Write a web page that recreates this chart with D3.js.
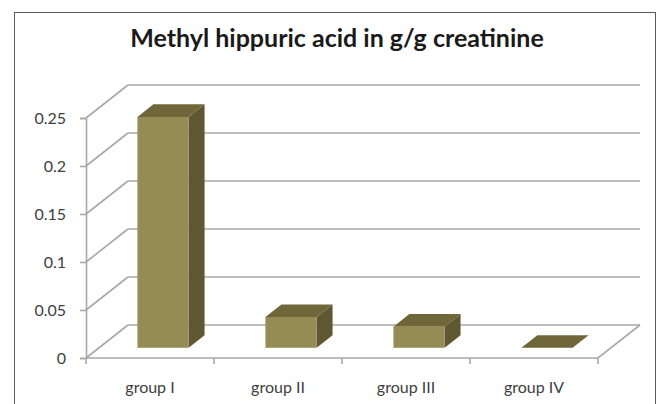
<!DOCTYPE html>
<html lang="en">
<head>
    <meta charset="UTF-8">
    <title>Methyl hippuric acid in g/g creatinine</title>
    <style>
        body { margin: 0; background: #fff; }
        text { font-family: Lato, "Open Sans", sans-serif; }
    </style>
</head>
<body>
<script src="https://cdn.jsdelivr.net/npm/d3@7"></script>
<script>
    const categories = ["group I", "group II", "group III", "group IV"];
    const values = [0.2405, 0.032, 0.022, 0];
    const yTicks = [0, 0.05, 0.1, 0.15, 0.2, 0.25];

    const width = 660, height = 404;
    // front plane of the plot, depth goes up and to the right
    const front = {left: 86, right: 598, bottom: 358, top: 118};
    const depth = {dx: 42, dy: -33};
    const barZ = [0.31, 0.69];   // bar sits in the middle of the depth
    const barWidth = 0.4;        // share of each band

    const x = d3.scaleBand()
        .domain(categories)
        .range([front.left, front.right]);

    const y = d3.scaleLinear()
        .domain([0, 0.25])
        .range([front.bottom, front.top]);

    // project a point (px, py) on the front plane back by z (0..1)
    const proj = (px, py, z) => [px + depth.dx * z, py + depth.dy * z];

    const svg = d3.select("body")
        .append("svg")
        .attr("width", width)
        .attr("height", height)
        .attr("viewBox", [0, 0, width, height]);

    // chart frame
    svg.append("rect")
        .attr("x", 14.5).attr("y", 12.5)
        .attr("width", 641).attr("height", 400)
        .attr("fill", "none")
        .attr("stroke", "#5a5a5a")
        .attr("stroke-width", 1);

    svg.append("text")
        .attr("x", 337)
        .attr("y", 47)
        .attr("text-anchor", "middle")
        .attr("font-size", 25)
        .attr("font-weight", "bold")
        .attr("fill", "#1a1a1a")
        .text("Methyl hippuric acid in g/g creatinine");

    const grid = svg.append("g")
        .attr("stroke", "#a8a8a8")
        .attr("stroke-width", 1.6)
        .attr("fill", "none");

    // back wall lines
    grid.selectAll(".back")
        .data(yTicks)
        .join("line")
        .attr("x1", d => proj(front.left, y(d), 1)[0])
        .attr("y1", d => proj(front.left, y(d), 1)[1])
        .attr("x2", d => proj(front.right, y(d), 1)[0])
        .attr("y2", d => proj(front.right, y(d), 1)[1]);

    // side wall diagonals
    grid.selectAll(".side")
        .data(yTicks)
        .join("line")
        .attr("x1", front.left)
        .attr("y1", d => y(d))
        .attr("x2", d => proj(front.left, y(d), 1)[0])
        .attr("y2", d => proj(front.left, y(d), 1)[1]);

    // floor front and right edges
    grid.append("path")
        .attr("d", d3.line()([
            [front.left, y(0)],
            [front.right, y(0)],
            proj(front.right, y(0), 1)
        ]));

    // y axis
    svg.append("g")
        .attr("transform", `translate(${front.left},0)`)
        .call(d3.axisLeft(y).tickValues(yTicks).tickFormat(d => String(d)).tickSize(6).tickPadding(14))
        .call(g => g.select(".domain").attr("stroke", "#a8a8a8").attr("stroke-width", 1.6))
        .call(g => g.selectAll(".tick line").attr("stroke", "#a8a8a8").attr("stroke-width", 1.6))
        .call(g => g.selectAll(".tick text")
            .attr("font-size", 16)
            .attr("font-family", "Lato, sans-serif")
            .attr("fill", "#404040"));

    // category ticks on floor edge
    const bounds = categories.map(c => x(c)).concat([front.right]);
    svg.append("g")
        .attr("stroke", "#a8a8a8")
        .attr("stroke-width", 1.6)
        .selectAll("line")
        .data(bounds)
        .join("line")
        .attr("x1", d => d).attr("x2", d => d)
        .attr("y1", y(0)).attr("y2", y(0) + 6);

    svg.append("g")
        .selectAll("text")
        .data(categories)
        .join("text")
        .attr("x", d => x(d) + x.bandwidth() / 2)
        .attr("y", 393)
        .attr("text-anchor", "middle")
        .attr("font-size", 16)
        .attr("fill", "#404040")
        .text(d => d);

    // 3d bars
    const bars = svg.append("g")
        .selectAll("g")
        .data(categories.map((c, i) => ({name: c, value: values[i]})))
        .join("g");

    const corners = d => {
        const w = x.bandwidth() * barWidth;
        const x0 = x(d.name) + (x.bandwidth() - w) / 2, x1 = x0 + w;
        const yb = y(0), yt = y(d.value);
        return {
            fbl: proj(x0, yb, barZ[0]), fbr: proj(x1, yb, barZ[0]),
            ftl: proj(x0, yt, barZ[0]), ftr: proj(x1, yt, barZ[0]),
            bbr: proj(x1, yb, barZ[1]),
            btl: proj(x0, yt, barZ[1]), btr: proj(x1, yt, barZ[1])
        };
    };
    const poly = pts => "M" + pts.map(p => p.join(",")).join("L") + "Z";

    bars.append("path")
        .attr("fill", "#5f5731")
        .attr("d", d => { const k = corners(d); return poly([k.fbr, k.ftr, k.btr, k.bbr]); });

    bars.append("path")
        .attr("fill", "#6f6739")
        .attr("d", d => { const k = corners(d); return poly([k.ftl, k.ftr, k.btr, k.btl]); });

    bars.append("path")
        .attr("fill", "#948b55")
        .attr("d", d => { const k = corners(d); return poly([k.fbl, k.fbr, k.ftr, k.ftl]); });
</script>
</body>
</html>
